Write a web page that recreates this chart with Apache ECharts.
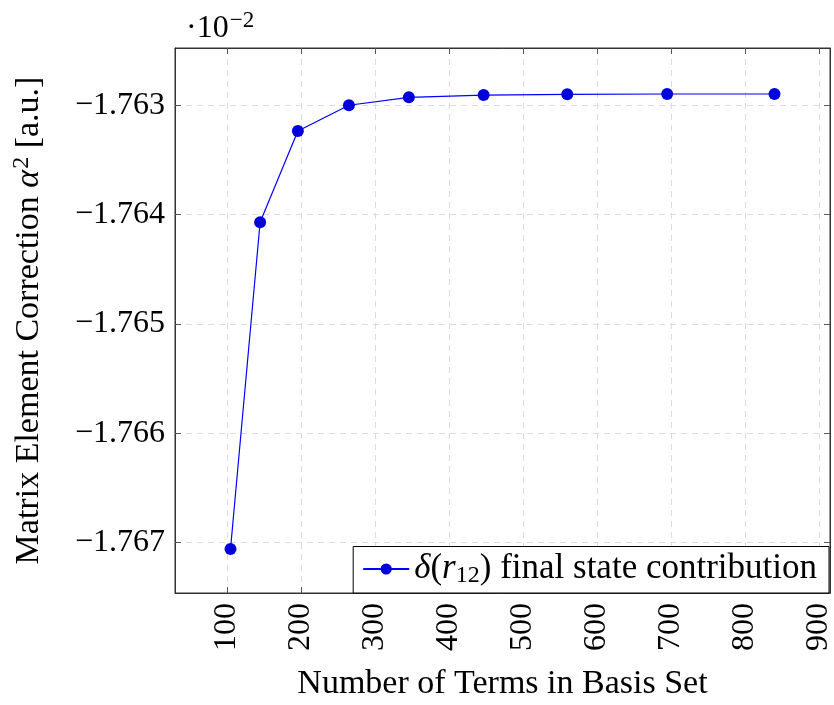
<!DOCTYPE html>
<html>
<head>
<meta charset="utf-8">
<script src="https://cdn.jsdelivr.net/npm/echarts@6/dist/echarts.min.js"></script>
<style>
  html, body { margin: 0; padding: 0; background: #fff; }
  #chart { width: 834px; height: 705px; }
</style>
</head>
<body>
<div id="chart"></div>
<script>
// number of terms in basis set
var terms = [105, 145, 196, 265, 346, 447, 560, 695, 840];
// matrix element correction (x 10^-2)
var values = [-1.76706, -1.76407, -1.763235, -1.763, -1.762927, -1.762907, -1.7629, -1.762897, -1.762897];
var xTicks = [100, 200, 300, 400, 500, 600, 700, 800, 900];
var yTicks = [-1.767, -1.766, -1.765, -1.764, -1.763];

var FONT = '"Liberation Serif", "DejaVu Serif", serif';
var gridLine = { show: true, lineStyle: { color: '#dcdcdc', type: [6, 5], width: 1 } };
var tick = { show: true, inside: true, length: 6, lineStyle: { color: '#555', width: 1 } };

var chart = echarts.init(document.getElementById('chart'));
var data = terms.map(function (t, i) { return [t, values[i]]; });

chart.setOption({
  animation: false,
  backgroundColor: '#fff',
  title: {
    text: '·10{sup|−2}',
    left: 181, top: 4,
    textStyle: {
      fontFamily: FONT, fontSize: 32, fontWeight: 'normal', color: '#000',
      rich: { sup: { fontFamily: FONT, fontSize: 23, color: '#000', padding: [0, 0, 16, 1] } }
    }
  },
  grid: {
    left: 175, right: 4, top: 48, bottom: 112,
    containLabel: false, outerBoundsMode: 'none',
    show: true, borderColor: '#333', borderWidth: 1
  },
  legend: {
    right: 5, bottom: 112,
    backgroundColor: '#fff', borderColor: '#000', borderWidth: 1,
    padding: [5, 12, 5, 9],
    itemWidth: 46, itemHeight: 14, itemGap: 6,
    formatter: function () {
      return '{i|δ}{t|(}{i|r}{s|12}{t|) final state contribution}';
    },
    textStyle: {
      fontFamily: FONT, fontSize: 35, color: '#000',
      rich: {
        t: { fontFamily: FONT, fontSize: 35, color: '#000' },
        i: { fontFamily: FONT, fontSize: 35, fontStyle: 'italic', color: '#000' },
        s: { fontFamily: FONT, fontSize: 24, color: '#000', padding: [14, 0, 0, 0] }
      }
    }
  },
  xAxis: [{
    type: 'value', min: 30, max: 915, position: 'bottom',
    name: 'Number of Terms in Basis Set', nameLocation: 'middle',
    nameGap: 74, nameMoveOverlap: false,
    nameTextStyle: { fontFamily: FONT, fontSize: 34, color: '#000' },
    axisLine: { show: true, lineStyle: { color: '#333' } },
    axisTick: Object.assign({ customValues: xTicks }, tick),
    splitLine: Object.assign({ customValues: xTicks }, gridLine),
    axisLabel: {
      customValues: xTicks, rotate: 90, margin: 10,
      fontFamily: FONT, fontSize: 32, color: '#000'
    }
  }, {
    type: 'value', min: 30, max: 915, position: 'top',
    axisLine: { show: true, lineStyle: { color: '#333' } },
    axisTick: Object.assign({ customValues: xTicks }, tick),
    axisLabel: { show: false }, splitLine: { show: false }
  }],
  yAxis: [{
    type: 'value', min: -1.767462, max: -1.762476, position: 'left',
    name: 'Matrix Element Correction {i|α}{sup|2} [a.u.]',
    nameLocation: 'middle', nameGap: 126, nameRotate: 90, nameMoveOverlap: false,
    nameTextStyle: {
      fontFamily: FONT, fontSize: 34, color: '#000',
      rich: {
        i: { fontFamily: FONT, fontSize: 34, fontStyle: 'italic', color: '#000' },
        sup: { fontFamily: FONT, fontSize: 24, color: '#000', padding: [0, 0, 15, 1] }
      }
    },
    axisLine: { show: true, lineStyle: { color: '#333' } },
    axisTick: Object.assign({ customValues: yTicks }, tick),
    splitLine: Object.assign({ customValues: yTicks }, gridLine),
    axisLabel: {
      customValues: yTicks, margin: 10,
      fontFamily: FONT, fontSize: 32, color: '#000',
      formatter: function (v) { return v.toFixed(3).replace('-', '−'); }
    }
  }, {
    type: 'value', min: -1.767462, max: -1.762476, position: 'right',
    axisLine: { show: true, lineStyle: { color: '#333' } },
    axisTick: Object.assign({ customValues: yTicks }, tick),
    axisLabel: { show: false }, splitLine: { show: false }
  }],
  series: [{
    name: 'delta',
    type: 'line',
    xAxisIndex: 0, yAxisIndex: 0,
    data: data,
    symbol: 'circle', symbolSize: 12,
    itemStyle: { color: '#0000dd' },
    lineStyle: { color: '#0000ff', width: 1.2 }
  }]
});
</script>
</body>
</html>
